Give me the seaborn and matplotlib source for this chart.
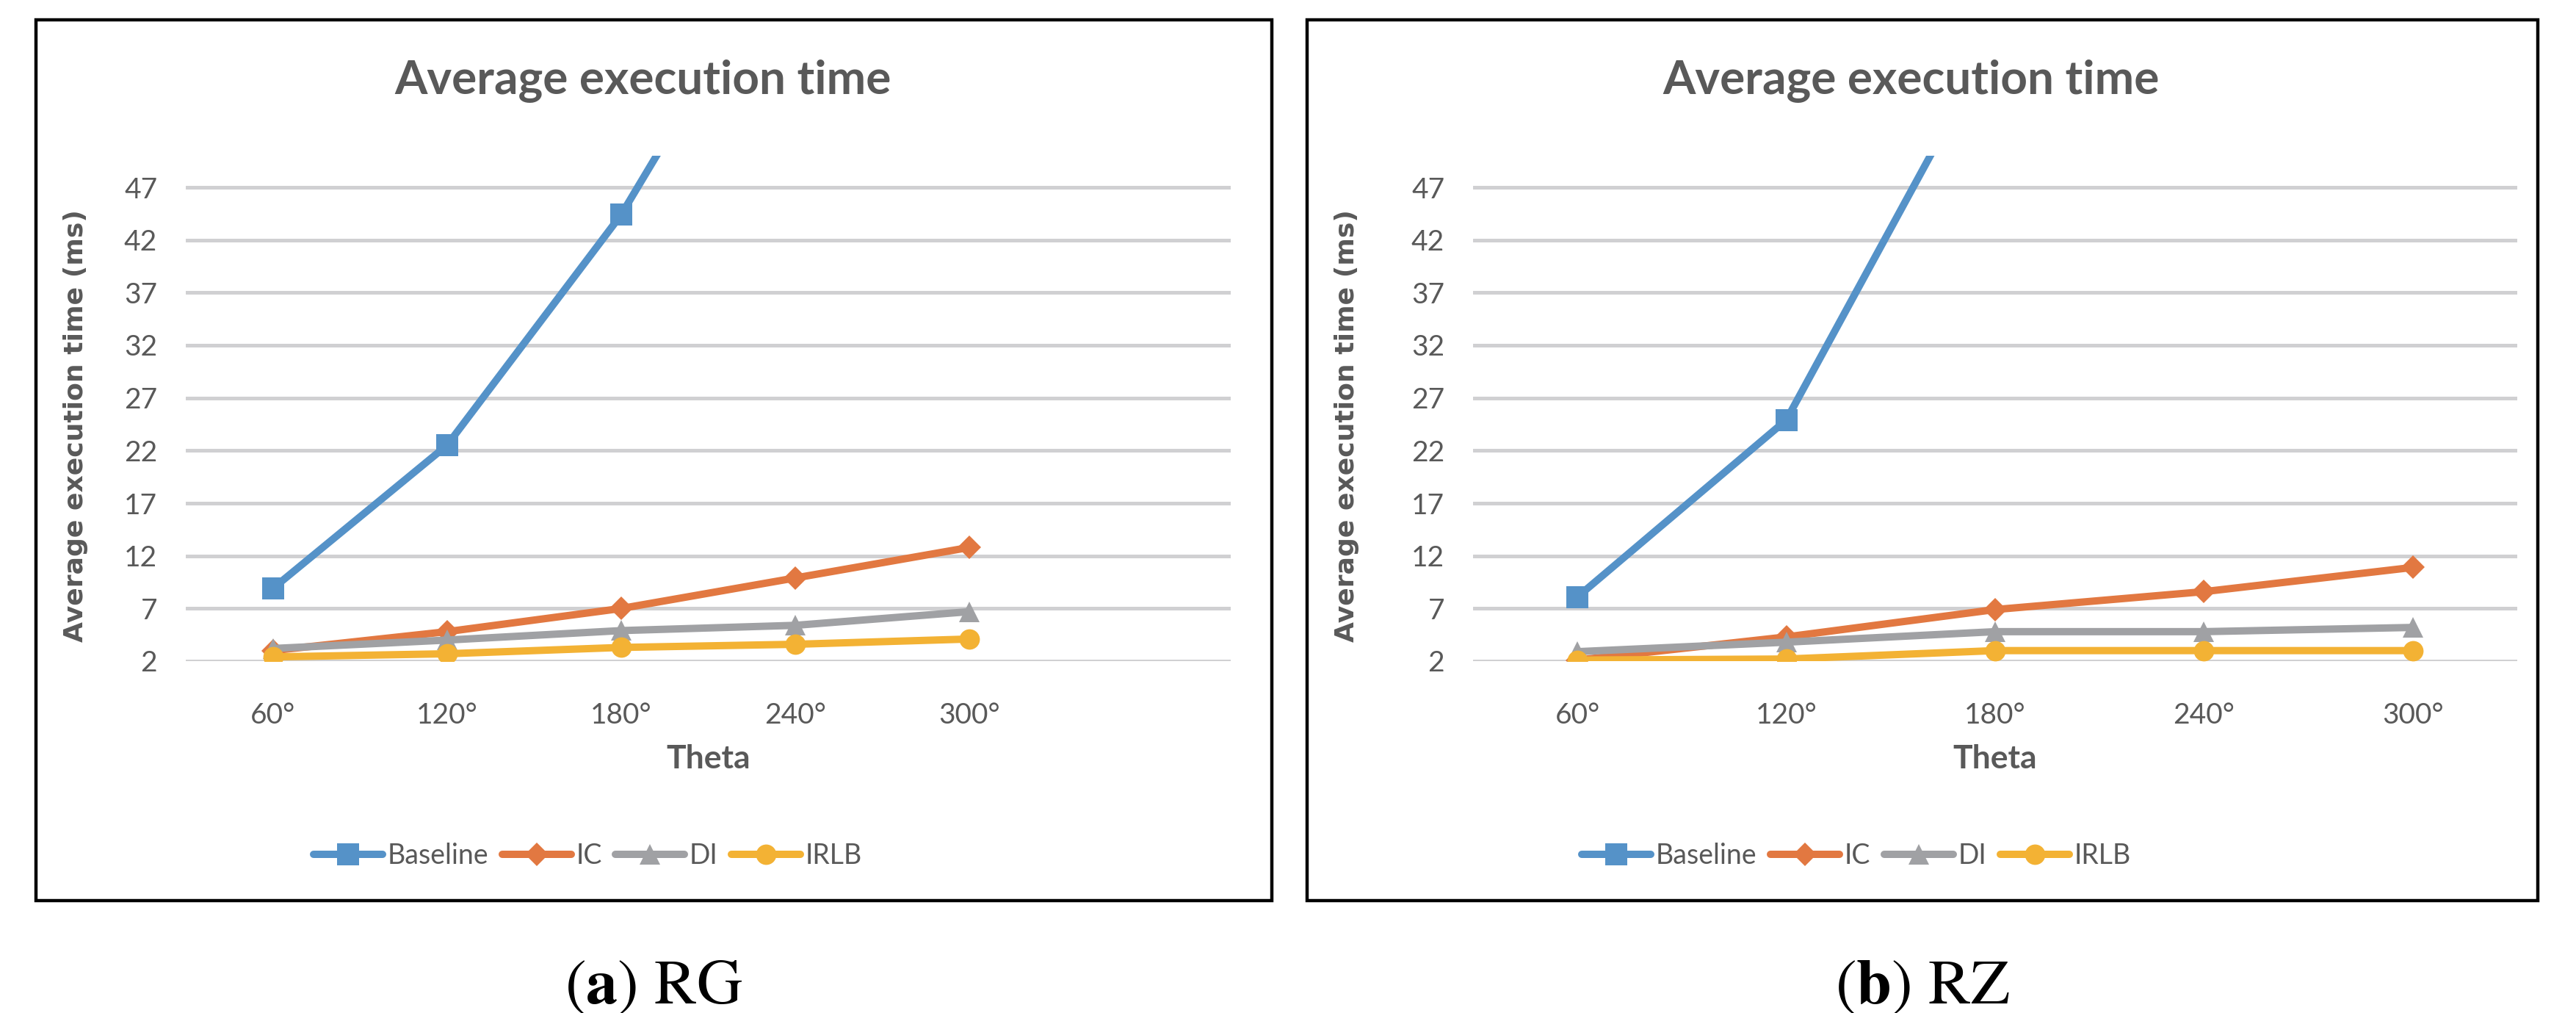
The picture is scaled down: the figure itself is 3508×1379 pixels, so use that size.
import pandas as pd
import matplotlib.pyplot as plt
import seaborn as sns
from matplotlib.lines import Line2D
from matplotlib.patches import Rectangle

W, H = 3508, 1379
DPI = 200

theta_labels = ['60°', '120°', '180°', '240°', '300°']
methods = ['Baseline', 'IC', 'DI', 'IRLB']

# RG panel
rg_baseline = [8.9, 22.5, 44.4, 72.0, 100.0]
rg_ic = [3.0, 4.8, 7.0, 9.9, 12.8]
rg_di = [3.2, 4.0, 4.9, 5.4, 6.7]
rg_irlb = [2.4, 2.7, 3.3, 3.6, 4.1]

# RZ panel
rz_baseline = [8.1, 24.9, 61.3, 100.0, 140.0]
rz_ic = [2.1, 4.3, 6.9, 8.6, 10.9]
rz_di = [2.9, 3.8, 4.8, 4.8, 5.2]
rz_irlb = [2.1, 2.2, 3.0, 3.0, 3.0]

y_ticks = [2, 7, 12, 17, 22, 27, 32, 37, 42, 47]

colors = {'Baseline': '#5592C8', 'IC': '#E27841', 'DI': '#A0A1A4', 'IRLB': '#F3B234'}
markers = {'Baseline': 's', 'IC': 'D', 'DI': '^', 'IRLB': 'o'}
msizes = {'Baseline': 10.5, 'IC': 8, 'DI': 10, 'IRLB': 10}
txt = '#595959'


def make_df(series):
    rows = []
    for name, vals in zip(methods, series):
        for i, v in enumerate(vals):
            rows.append({'pos': i, 'time': v, 'method': name})
    return pd.DataFrame(rows)


def fx(x):
    return x / W


def fy(y):
    return 1 - y / H


sns.set_theme(style='white')
plt.rcParams['font.family'] = ['Lato', 'DejaVu Sans']

fig = plt.figure(figsize=(W / DPI, H / DPI), dpi=DPI)

panels = [
    dict(df=make_df([rg_baseline, rg_ic, rg_di, rg_irlb]), box=(49, 27, 1732, 1226),
         plot=(253, 1676), nslots=6, cap=r'($\mathbf{a}$) RG'),
    dict(df=make_df([rz_baseline, rz_ic, rz_di, rz_irlb]), box=(1780, 27, 3456, 1226),
         plot=(2006, 3428), nslots=5, cap=r'($\mathbf{b}$) RZ'),
]

top, bottom = 212, 900

for p in panels:
    x0, x1 = p['plot']
    ax = fig.add_axes([fx(x0), fy(bottom), (x1 - x0) / W, (bottom - top) / H])
    for m in methods:
        d = p['df'][p['df']['method'] == m]
        sns.lineplot(data=d, x='pos', y='time', color=colors[m], marker=markers[m],
                     markersize=msizes[m], markeredgewidth=0, linewidth=3.6,
                     ax=ax, legend=False, zorder=3)
    ax.set_xlim(-0.5, p['nslots'] - 0.5)
    ax.set_ylim(2, 50)
    ax.set_xticks(range(len(theta_labels)))
    ax.set_xticklabels(theta_labels)
    ax.set_yticks(y_ticks)
    ax.tick_params(axis='both', length=0, labelsize=14, colors=txt)
    ax.tick_params(axis='x', pad=20)
    ax.tick_params(axis='y', pad=14)
    ax.grid(axis='y', color='#D0D0D2', linewidth=1.8)
    ax.grid(axis='x', visible=False)
    for s in ax.spines.values():
        s.set_visible(False)
    ax.set_xlabel('')
    ax.set_ylabel('')

    bx0, by0, bx1, by1 = p['box']
    fig.patches.append(Rectangle((fx(bx0), fy(by1)), (bx1 - bx0) / W, (by1 - by0) / H,
                                 transform=fig.transFigure, fill=False,
                                 edgecolor='black', linewidth=1.6))
    cx = (bx0 + bx1) / 2
    fig.text(fx(cx - 15), fy(110), 'Average execution time', ha='center', va='center',
             fontsize=23, fontweight='bold', color=txt)
    fig.text(fx((x0 + x1) / 2), fy(1033), 'Theta', ha='center', va='center',
             fontsize=16, fontweight='bold', color=txt)
    fig.text(fx(bx0 + 54), fy(580), 'Average execution time (ms)', ha='center', va='center',
             rotation=90, fontsize=13, fontweight='bold', color=txt,
             family=['DejaVu Sans'])

    handles = [Line2D([], [], color=colors[m], lw=3.6, marker=markers[m],
                      markersize=msizes[m], markeredgewidth=0, solid_capstyle='round')
               for m in methods]
    leg = fig.legend(handles, methods, loc='center', bbox_to_anchor=(fx(cx - 90), fy(1165)),
                     ncol=4, frameon=False, fontsize=13.5, handlelength=2.5,
                     handletextpad=0.18, columnspacing=0.5)
    for t in leg.get_texts():
        t.set_color(txt)

    fig.text(fx(cx), fy(1345), p['cap'], ha='center', va='center', fontsize=31,
             family='STIXGeneral', color='black', math_fontfamily='stix')

fig.savefig('out.png', dpi=DPI)
